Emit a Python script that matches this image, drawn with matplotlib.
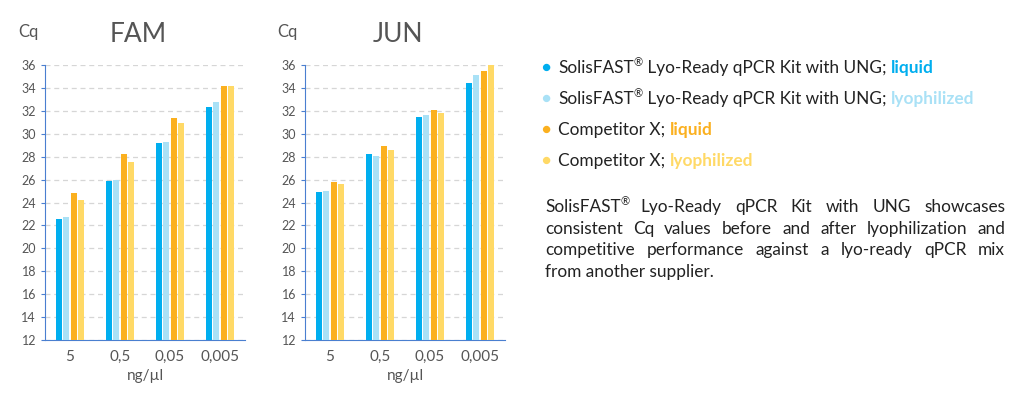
import matplotlib
matplotlib.use("Agg")
import matplotlib.pyplot as plt
import numpy as np

categories = ["5", "0,5", "0,05", "0,005"]
fam_blue = [22.6, 25.9, 29.2, 32.3]
fam_lblue = [22.7, 26.0, 29.3, 32.8]
fam_orange = [24.8, 28.2, 31.4, 34.2]
fam_yellow = [24.2, 27.5, 30.9, 34.2]
jun_blue = [24.9, 28.2, 31.5, 34.4]
jun_lblue = [25.0, 28.1, 31.6, 35.1]
jun_orange = [25.8, 28.9, 32.1, 35.5]
jun_yellow = [25.6, 28.6, 31.8, 36.0]
yticks = list(range(12, 37, 2))

colors = ["#00AEEF", "#A9E1F6", "#FBB01F", "#FFD966"]
plt.rcParams["font.family"] = "Lato"
fig = plt.figure(figsize=(10.24, 4.01), dpi=100)
W, H = 1024, 401
FS = 12.4

def panel(left, series, title, cqx, titx):
    ax = fig.add_axes([left / W, 61 / H, 200 / W, 275 / H])
    x = np.arange(len(categories))
    for i, (s, c) in enumerate(zip(series, colors)):
        ax.bar(x + (i - 1.5) * 0.15, s, width=0.125, color=c, zorder=3)
    ax.set_ylim(12, 36)
    ax.set_xlim(-0.5, 3.5)
    ax.set_yticks(yticks)
    ax.set_xticks(x, categories)
    ax.grid(axis="y", color="#d6d6d6", linestyle=(0, (4, 3)), linewidth=0.9, zorder=0)
    for sp in ["top", "right"]:
        ax.spines[sp].set_visible(False)
    ax.spines["left"].set_color("#4a7fd0")
    ax.spines["bottom"].set_color("#4a7fd0")
    ax.tick_params(axis="y", labelsize=9, colors="#555555", length=3, color="#4a7fd0")
    ax.tick_params(axis="x", labelsize=11, colors="#555555", length=0, pad=7)
    ax.set_xlabel("ng/µl", fontsize=11, color="#555555", labelpad=4)
    fig.text(cqx / W, 1 - 32 / H, "Cq", fontsize=12, color="#555555", va="center", ha="center")
    fig.text(titx / W, 1 - 35 / H, title, fontsize=19, color="#555555", va="center", ha="center")

panel(45, [fam_blue, fam_lblue, fam_orange, fam_yellow], "FAM", 28, 138)
panel(305, [jun_blue, jun_lblue, jun_orange, jun_yellow], "JUN", 287, 398)

fig.canvas.draw()
r = fig.canvas.get_renderer()

def chain(x, y, pieces):
    for txt, kw, dy in pieces:
        t = fig.text(x / W, 1 - (y + dy) / H, txt, va="center", ha="left", **kw)
        bb = t.get_window_extent(r)
        x += bb.width

leg = [
    ("SolisFAST", " Lyo-Ready qPCR Kit with UNG; ", "liquid", 0),
    ("SolisFAST", " Lyo-Ready qPCR Kit with UNG; ", "lyophilized", 1),
    ("Competitor X; ", None, "liquid", 2),
    ("Competitor X; ", None, "lyophilized", 3),
]
base = dict(fontsize=FS, color="#222222")
for k, (a, b, c, ci) in enumerate(leg):
    y = 68 + k * 31
    fig.text(546 / W, 1 - y / H, "●", color=colors[ci], fontsize=11, va="center", ha="center")
    pieces = [(a, base, 0)]
    if b:
        pieces.append(("®", dict(fontsize=8, color="#222222"), -5))
        pieces.append((b, base, 0))
    pieces.append((c, dict(fontsize=FS, color=colors[ci], fontweight="bold"), 0))
    chain(558, y, pieces)

# justified paragraph
lines = [
    ["SolisFAST®", "Lyo-Ready", "qPCR", "Kit", "with", "UNG", "showcases"],
    ["consistent", "Cq", "values", "before", "and", "after", "lyophilization", "and"],
    ["competitive", "performance", "against", "a", "lyo-ready", "qPCR", "mix"],
    ["from another supplier."],
]
x0, x1 = 545, 1005
for li, words in enumerate(lines):
    y = 207 + li * 21.7
    kw = dict(fontsize=FS, color="#222222")
    if li == 3:
        fig.text(x0 / W, 1 - y / H, words[0], va="center", ha="left", **kw)
        continue
    widths = []
    for w in words:
        t = fig.text(0, 0, w.replace("®", ""), **kw)
        wd = t.get_window_extent(r).width
        t.remove()
        if "®" in w:
            wd += 7
        widths.append(wd)
    gap = (x1 - x0 - sum(widths)) / (len(words) - 1)
    x = x0
    for w, wd in zip(words, widths):
        if "®" in w:
            fig.text(x / W, 1 - y / H, w.replace("®", ""), va="center", ha="left", **kw)
            fig.text((x + wd - 7) / W, 1 - (y - 5) / H, "®", va="center", ha="left", fontsize=8, color="#222222")
        else:
            fig.text(x / W, 1 - y / H, w, va="center", ha="left", **kw)
        x += wd + gap

fig.savefig("out.png", dpi=100)
